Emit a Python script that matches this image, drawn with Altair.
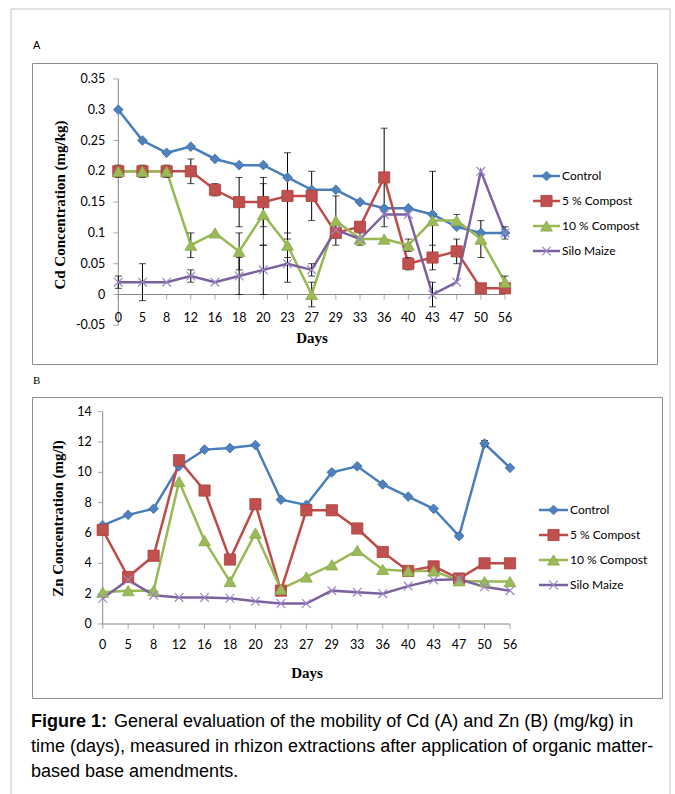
import altair as alt
import pandas as pd

# ---------------- data ----------------
days = [0, 5, 8, 12, 16, 18, 20, 23, 27, 29, 33, 36, 40, 43, 47, 50, 56]
series_names = ["Control", "5 % Compost", "10 % Compost", "Silo Maize"]

# Panel A: Cd concentration (mg/kg)
cd_control = [0.30, 0.25, 0.23, 0.24, 0.22, 0.21, 0.21, 0.19, 0.17, 0.17, 0.15, 0.14, 0.14, 0.13, 0.11, 0.10, 0.10]
cd_comp5 = [0.20, 0.20, 0.20, 0.20, 0.17, 0.15, 0.15, 0.16, 0.16, 0.10, 0.11, 0.19, 0.05, 0.06, 0.07, 0.01, 0.01]
cd_comp10 = [0.20, 0.20, 0.20, 0.08, 0.10, 0.07, 0.13, 0.08, 0.00, 0.12, 0.09, 0.09, 0.08, 0.12, 0.12, 0.09, 0.02]
cd_silo = [0.02, 0.02, 0.02, 0.03, 0.02, 0.03, 0.04, 0.05, 0.04, 0.105, 0.09, 0.13, 0.13, 0.00, 0.02, 0.20, 0.10]

# Panel A error bars (+/-)
cd_control_err = [0, 0, 0, 0, 0, 0, 0, 0, 0, 0, 0, 0, 0, 0.07, 0, 0, 0.01]
cd_comp5_err = [0.01, 0.01, 0.01, 0.02, 0.01, 0.04, 0.04, 0.07, 0.04, 0, 0, 0.08, 0.01, 0.02, 0.02, 0, 0]
cd_comp10_err = [0, 0, 0, 0.02, 0, 0.03, 0.05, 0.02, 0.02, 0.04, 0, 0, 0.01, 0, 0.01, 0.03, 0.01]
cd_silo_err = [0.01, 0.03, 0, 0.01, 0, 0.03, 0.04, 0.03, 0.01, 0, 0.01, 0, 0, 0.02, 0, 0, 0]

# Panel B: Zn concentration (mg/l)
zn_control = [6.5, 7.2, 7.6, 10.4, 11.5, 11.6, 11.8, 8.2, 7.85, 10.0, 10.4, 9.2, 8.4, 7.6, 5.8, 11.9, 10.3]
zn_comp5 = [6.2, 3.1, 4.5, 10.8, 8.8, 4.25, 7.9, 2.2, 7.5, 7.5, 6.3, 4.75, 3.5, 3.8, 3.0, 4.0, 4.0]
zn_comp10 = [2.1, 2.2, 2.2, 9.4, 5.5, 2.8, 6.0, 2.3, 3.1, 3.9, 4.85, 3.6, 3.5, 3.5, 2.85, 2.8, 2.8]
zn_silo = [1.7, 2.9, 1.9, 1.75, 1.75, 1.7, 1.5, 1.35, 1.35, 2.2, 2.1, 2.0, 2.5, 2.9, 2.95, 2.45, 2.2]

zn_control_err = [0, 0, 0, 0, 0, 0, 0, 0, 0, 0, 0, 0, 0, 0, 0.15, 0.2, 0]
zn_comp5_err = [0] * 17
zn_comp10_err = [0] * 17
zn_silo_err = [0] * 17

cd_ticks = [-0.05, 0, 0.05, 0.1, 0.15, 0.2, 0.25, 0.3, 0.35]
zn_ticks = [0, 2, 4, 6, 8, 10, 12, 14]

caption_bold = "Figure 1:"
caption_lines = [
    "General evaluation of the mobility of Cd (A) and Zn (B) (mg/kg) in",
    "time (days), measured in rhizon extractions after application of organic matter-",
    "based base amendments.",
]

# ---------------- styles ----------------
line_colors = ["#4A7EBB", "#BE4B48", "#98B954", "#7D60A0"]
fill_colors = ["#4F81BD", "#C0504D", "#9BBB59", "#8064A2"]
edge_colors = ["#3E6EA8", "#A8403D", "#88A84A", "#9C86C6"]
X_PATH = "M-1,-1L1,1M-1,1L1,-1"
shapes = ["diamond", "square", "triangle-up", X_PATH]
sizes = [95, 125, 140, 75]
AXIS_GRAY = "#868686"
FRAME_GRAY = "#c4c4c4"
TICK_FONT = "Lato"
TITLE_FONT = "Liberation Serif"


def long_df(vals, errs):
    rows = []
    for s, v, e in zip(series_names, vals, errs):
        for i, (y, ee) in enumerate(zip(v, e)):
            rows.append({"series": s, "idx": i, "value": y, "lo": y - ee, "hi": y + ee, "err": ee})
    return pd.DataFrame(rows)


def make_panel(df, ticks, lay, ytitle, label, label_font, frame=None):
    W, H = lay["w"], lay["h"]
    x0, dx = lay["x0"], lay["dx"]
    y0, ppu = lay["y0"], lay["ppu"]
    xmin, xmax = -x0 / dx, (W - x0) / dx
    ymax, ymin = y0 / ppu, -(H - y0) / ppu
    xs = alt.Scale(domain=[xmin, xmax], nice=False, zero=False)
    ys = alt.Scale(domain=[ymin, ymax], nice=False, zero=False)
    n = len(days)

    def X(f):
        return alt.X(f, type="quantitative", scale=xs, axis=None)

    def Y(f):
        return alt.Y(f, type="quantitative", scale=ys, axis=None)

    cscale = alt.Scale(domain=series_names, range=line_colors)
    base = alt.Chart(df)

    # --- hand-built Excel-style axes ---
    axis_df = pd.DataFrame({"x0": [0], "x1": [n - 1], "ylo": [min(ticks)], "yhi": [max(ticks)], "zero": [0]})
    yaxis_line = alt.Chart(axis_df).mark_rule(color=AXIS_GRAY, strokeWidth=1).encode(
        x=X("x0"), y=Y("ylo"), y2="yhi:Q")
    xaxis_line = alt.Chart(axis_df).mark_rule(color=AXIS_GRAY, strokeWidth=1).encode(
        x=X("x0"), x2="x1:Q", y=Y("zero"))
    ytick_df = pd.DataFrame({"v": ticks, "x0": [0] * len(ticks), "lab": ["%g" % t for t in ticks]})
    xtick_df = pd.DataFrame({"i": list(range(n)), "zero": [0] * n, "lab": [str(d) for d in days]})
    yticks_m = alt.Chart(ytick_df).mark_tick(orient="horizontal", size=5, thickness=1,
                                             color=AXIS_GRAY, xOffset=-2.5).encode(x=X("x0"), y=Y("v"))
    ylabels = alt.Chart(ytick_df).mark_text(align="right", baseline="middle", font=TICK_FONT,
                                            fontSize=12.5, color="black", dx=lay["ydx"]).encode(
        x=X("x0"), y=Y("v"), text="lab:N")
    xticks_m = alt.Chart(xtick_df).mark_tick(orient="vertical", size=5, thickness=1,
                                             color=AXIS_GRAY, yOffset=2.5).encode(x=X("i"), y=Y("zero"))
    xlabels = alt.Chart(xtick_df).mark_text(align="center", baseline="middle", font=TICK_FONT,
                                            fontSize=12.5, color="black", dy=lay["xdy"]).encode(
        x=X("i"), y=Y("zero"), text="lab:N")
    title_df = pd.DataFrame({"xt": ["Days"], "yt": [ytitle], "pl": [label]})
    xtitle = alt.Chart(title_df).mark_text(align="center", baseline="middle", font=TITLE_FONT,
                                           fontSize=15, fontWeight="bold", color="black").encode(
        x=alt.value(lay["xt_x"]), y=alt.value(lay["xt_y"]), text="xt:N")
    ytitle_m = alt.Chart(title_df).mark_text(align="center", baseline="middle", font=TITLE_FONT,
                                             fontSize=15, fontWeight="bold", color="black",
                                             angle=270).encode(
        x=alt.value(lay["yt_x"]), y=alt.value(lay["yt_y"]), text="yt:N")
    plabel = alt.Chart(title_df).mark_text(align="left", baseline="middle", font=label_font,
                                           fontSize=11, color="black").encode(
        x=alt.value(lay["pl_x"]), y=alt.value(lay["pl_y"]), text="pl:N")

    lines = base.mark_line(strokeWidth=2.5).encode(
        x=X("idx"), y=Y("value"),
        color=alt.Color("series:N", scale=cscale, legend=None),
        detail="series:N",
    )
    err = base.transform_filter("datum.err > 0")
    bars = err.mark_rule(color="black", strokeWidth=1).encode(x=X("idx"), y=Y("lo"), y2="hi:Q")
    cap_lo = err.mark_tick(color="black", orient="horizontal", size=7, thickness=1).encode(
        x=X("idx"), y=Y("lo"))
    cap_hi = err.mark_tick(color="black", orient="horizontal", size=7, thickness=1).encode(
        x=X("idx"), y=Y("hi"))

    # legend rows (positions derived from the panel layout)
    def px2x(px):
        return (px - x0) / dx

    def px2y(py):
        return (y0 - py) / ppu

    leg_df = pd.DataFrame({
        "series": series_names,
        "lx0": [px2x(lay["lg_x0"])] * 4,
        "lx1": [px2x(lay["lg_x1"])] * 4,
        "lxm": [px2x((lay["lg_x0"] + lay["lg_x1"]) / 2)] * 4,
        "lxt": [px2x(lay["lg_x1"] + 2)] * 4,
        "ly": [px2y(lay["lg_y0"] + k * lay["lg_dy"]) for k in range(4)],
    })
    leg_lines = alt.Chart(leg_df).mark_rule(strokeWidth=2.5).encode(
        x=X("lx0"), x2="lx1:Q", y=Y("ly"),
        color=alt.Color("series:N", scale=cscale, legend=None))
    leg_text = alt.Chart(leg_df).mark_text(align="left", baseline="middle", font=TICK_FONT,
                                           fontSize=12, color="black").encode(
        x=X("lxt"), y=Y("ly"), text="series:N")

    layers = []
    if frame is not None:
        fdf = pd.DataFrame({"k": [0]})
        fl, ft, fr, fb = frame
        for enc in (dict(x=alt.value(fl), y=alt.value(ft), y2=alt.value(fb)),
                    dict(x=alt.value(fl), x2=alt.value(fr), y=alt.value(ft)),
                    dict(x=alt.value(fr), y=alt.value(ft), y2=alt.value(fb))):
            layers.append(alt.Chart(fdf).mark_rule(color=FRAME_GRAY, strokeWidth=1).encode(**enc))
    layers += [plabel, yaxis_line, xaxis_line, yticks_m, xticks_m, ylabels, xlabels, xtitle, ytitle_m,
               lines, bars, cap_lo, cap_hi, leg_lines]
    for s, shp, fc, ec, sz in zip(series_names, shapes, fill_colors, edge_colors, sizes):
        is_x = shp == X_PATH
        mk = dict(shape=shp, size=sz, filled=not is_x, opacity=1,
                  stroke=ec, strokeWidth=1.2 if is_x else 0.8)
        if not is_x:
            mk["fill"] = fc
        f = "datum.series === '%s'" % s
        layers.append(base.transform_filter(f).mark_point(**mk).encode(x=X("idx"), y=Y("value")))
        layers.append(alt.Chart(leg_df).transform_filter(f).mark_point(**mk).encode(
            x=X("lxm"), y=Y("ly")))
    layers.append(leg_text)

    return alt.layer(*layers).properties(
        width=W, height=H,
        view=alt.ViewBackground(stroke="#8c8c8c", strokeWidth=1),
    )


lay_a = dict(w=625, h=301, x0=86.3, dx=24.17, y0=231.5, ppu=616,
             xdy=23.5, ydx=-13, xt_x=280, xt_y=275, yt_x=28, yt_y=142,
             lg_x0=501, lg_x1=528, lg_y0=113, lg_dy=25, pl_x=1, pl_y=-17)
lay_b = dict(w=630, h=301, x0=70.7, dx=25.456, y0=227, ppu=15.164,
             xdy=21, ydx=-11, xt_x=275, xt_y=276, yt_x=26, yt_y=121.5,
             lg_x0=507, lg_x1=536, lg_y0=113, lg_dy=25, pl_x=1, pl_y=-16.5)

# page frame around the whole figure, relative to panel A's plot box (31, 62)
frame_a = (-21, -54, 638, 731)

panel_a = make_panel(long_df([cd_control, cd_comp5, cd_comp10, cd_silo],
                             [cd_control_err, cd_comp5_err, cd_comp10_err, cd_silo_err]),
                     cd_ticks, lay_a, "Cd Concentration (mg/kg)", "A", "Liberation Sans", frame=frame_a)
panel_b = make_panel(long_df([zn_control, zn_comp5, zn_comp10, zn_silo],
                             [zn_control_err, zn_comp5_err, zn_comp10_err, zn_silo_err]),
                     zn_ticks, lay_b, "Zn Concentration (mg/l)", "B", "Liberation Serif")

cap_df = pd.DataFrame({"bold": [caption_bold], "l0": [caption_lines[0]],
                       "l1": [caption_lines[1]], "l2": [caption_lines[2]]})
cap_base = alt.Chart(cap_df)
cap_kw = dict(align="left", baseline="middle", font="Liberation Sans", fontSize=18, color="black")
caption = alt.layer(
    cap_base.mark_text(fontWeight="bold", **cap_kw).encode(x=alt.value(-1), y=alt.value(-9), text="bold:N"),
    cap_base.mark_text(**cap_kw).encode(x=alt.value(82), y=alt.value(-9), text="l0:N"),
    cap_base.mark_text(**cap_kw).encode(x=alt.value(-1), y=alt.value(16), text="l1:N"),
    cap_base.mark_text(**cap_kw).encode(x=alt.value(-1), y=alt.value(41), text="l2:N"),
).properties(width=630, height=50)

chart = alt.vconcat(panel_a, panel_b, caption, spacing=33, bounds="flush").properties(
    padding={"left": 10, "top": 8, "right": 0, "bottom": 0},
    background="white",
).configure_view(stroke=None)

chart.save("out.html", embed_options={"renderer": "svg", "actions": False})
